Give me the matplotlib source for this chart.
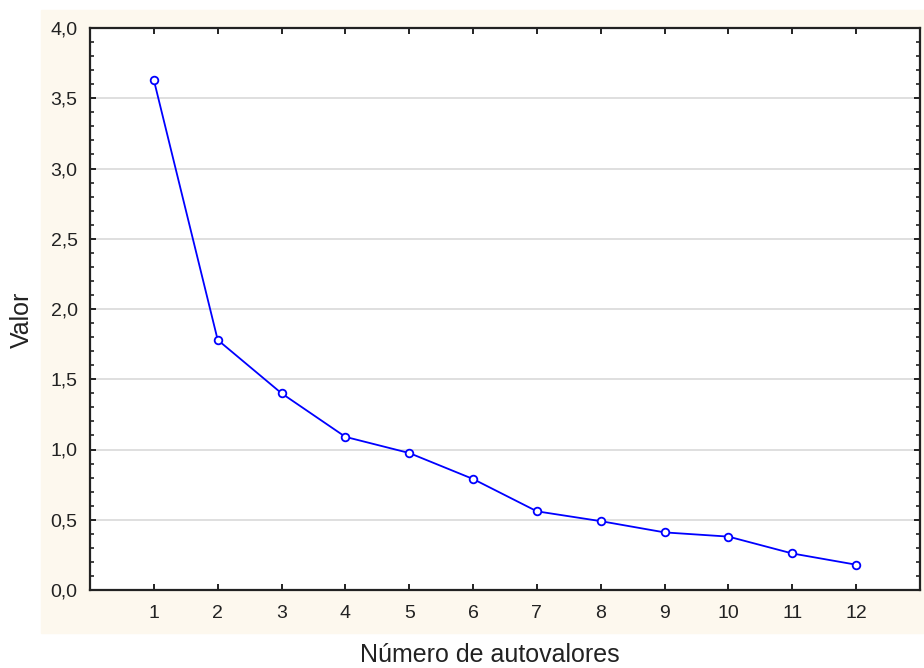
import matplotlib.pyplot as plt
from matplotlib.patches import Rectangle
from matplotlib.ticker import FuncFormatter, MultipleLocator

plt.rcParams['font.family'] = ['Liberation Sans', 'DejaVu Sans']

# autovalores (scree plot)
numero = [1, 2, 3, 4, 5, 6, 7, 8, 9, 10, 11, 12]
valor = [3.63, 1.78, 1.40, 1.09, 0.975, 0.79, 0.56, 0.49, 0.41, 0.38, 0.26, 0.18]

fig = plt.figure(figsize=(9.24, 6.68), dpi=100)
W, H = 924, 668

# fundo creme atras do grafico
fig.patches.append(Rectangle((41 / W, 1 - 633 / H), 1 - 41 / W, (633 - 10) / H,
                             transform=fig.transFigure, color='#fdf8ee', zorder=-10))

ax = fig.add_axes([90 / W, 1 - 590 / H, (920 - 90) / W, (590 - 28) / H])
ax.set_facecolor('white')

ax.plot(numero, valor, color='#0000ff', lw=1.3, marker='o', ms=5.5,
        mfc='white', mec='#0000ff', mew=1.3, zorder=3)

ax.set_xlim(0, 13)
ax.set_ylim(0, 4)
ax.set_xticks(numero)
ax.yaxis.set_major_locator(MultipleLocator(0.5))
ax.yaxis.set_minor_locator(MultipleLocator(0.1))
ax.yaxis.set_major_formatter(FuncFormatter(lambda v, p: ('%.1f' % v).replace('.', ',')))

for s in ax.spines.values():
    s.set_linewidth(1.6)
    s.set_color('#222222')

ax.tick_params(axis='both', which='both', direction='in', top=True, right=True,
               colors='#222222', labelsize=14)
ax.tick_params(axis='both', which='major', length=4, width=1.4)
ax.tick_params(axis='y', which='minor', length=3, width=1.2)
ax.tick_params(axis='y', which='major', pad=9)
ax.tick_params(axis='x', which='major', pad=11)

for yv in [0.5, 1.0, 1.5, 2.0, 2.5, 3.0, 3.5]:
    ax.axhline(yv, color='#d9d9d9', lw=1.2, zorder=1)

fig.text(490 / W, 1 - 655 / H, 'Número de autovalores', ha='center', va='center',
         fontsize=18, color='#222222')
fig.text(22 / W, 1 - 320 / H, 'Valor', ha='center', va='center', rotation=90,
         fontsize=18, color='#222222')

fig.savefig('out.png', dpi=100)
